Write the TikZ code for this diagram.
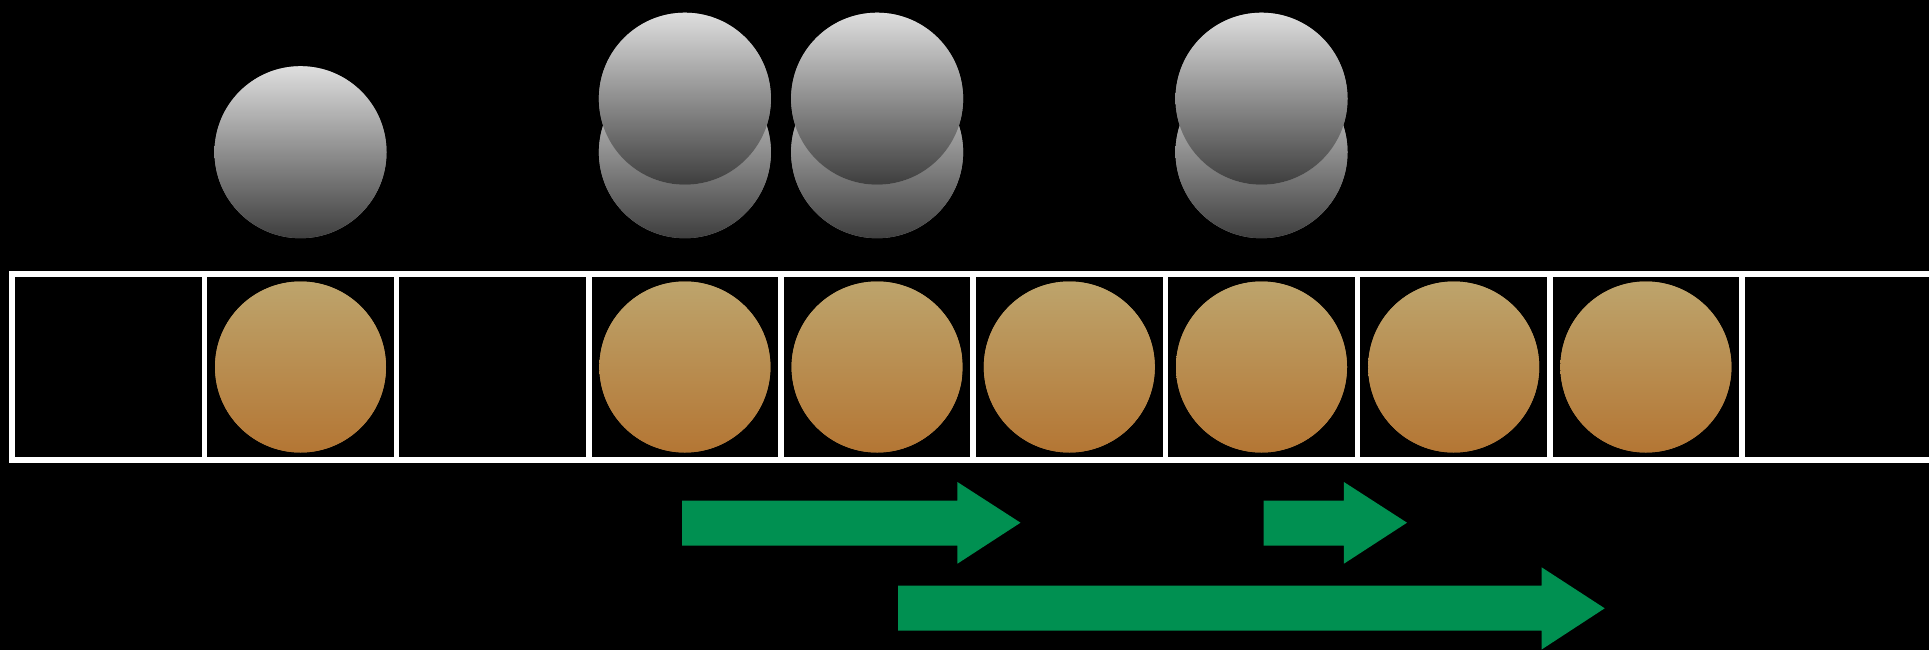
\documentclass[tikz,border=0pt]{standalone}
\usetikzlibrary{calc}
\definecolor{tantop}{RGB}{189,164,108}
\definecolor{tanbot}{RGB}{180,118,52}
\definecolor{tanmid}{RGB}{184,141,80}
\definecolor{graytop}{RGB}{222,222,222}
\definecolor{graybot}{RGB}{62,62,62}
\definecolor{graymid}{RGB}{142,142,142}
\definecolor{arrowgreen}{RGB}{0,144,81}
\tikzset{
  cellbox/.style={draw=white, line width=5.5pt, minimum width=192.2pt, minimum height=186.2pt, inner sep=0pt, outer sep=0pt, rectangle},
  tanball/.style={top color=tantop, bottom color=tanbot},
  grayball/.style={top color=graytop, bottom color=graybot},
  blockarrow/.style={fill=arrowgreen, draw=none}
}
% \myball{coordinate}{shade style}{mid colour}{radius}
\newcommand{\myball}[4]{%
  \fill[#3] (#1) circle[radius=#4];
  \begin{scope}
    \clip (#1) circle[radius=#4];
    \shade[#2] ($(#1)+(-120,-#4)$) rectangle ($(#1)+(120,#4)$);
  \end{scope}}
\begin{document}
\begin{tikzpicture}[x=1pt,y=-1pt]
\fill[black] (0,0) rectangle (1929,650);
\useasboundingbox (0,0) rectangle (1929,650);
% cells
\foreach \k in {0,...,9}{
  \node[cellbox] (cell\k) at ({108.3+192.2*\k},366.9) {};
}
% brown balls
\foreach \k in {1,3,4,5,6,7,8}{
  \coordinate (ball\k) at ({108.3+192.2*\k},367);
  \myball{ball\k}{tanball}{tanmid}{85.5}
}
% single gray ball
\coordinate (g1) at ({108.3+192.2*1},152.2);
\myball{g1}{grayball}{graymid}{86}
% double gray balls
\foreach \k in {3,4,6}{
  \coordinate (gb\k) at ({108.3+192.2*\k},152.2);
  \coordinate (gf\k) at ({108.3+192.2*\k},98.7);
  \myball{gb\k}{grayball}{graymid}{86}
  \myball{gf\k}{grayball}{graymid}{86}
}
% arrows
\fill[blockarrow] (682,500.7) -- (957.4,500.7) -- (957.4,482) -- (1020.5,522.7) -- (957.4,563.7) -- (957.4,545.7) -- (682,545.7) -- cycle;
\fill[blockarrow] (1263.5,500.7) -- (1343.9,500.7) -- (1343.9,482) -- (1407,522.7) -- (1343.9,563.7) -- (1343.9,545.7) -- (1263.5,545.7) -- cycle;
\fill[blockarrow] (898,585.7) -- (1541.6,585.7) -- (1541.6,567.3) -- (1604.7,608.3) -- (1541.6,649.5) -- (1541.6,630.7) -- (898,630.7) -- cycle;
\end{tikzpicture}
\end{document}
